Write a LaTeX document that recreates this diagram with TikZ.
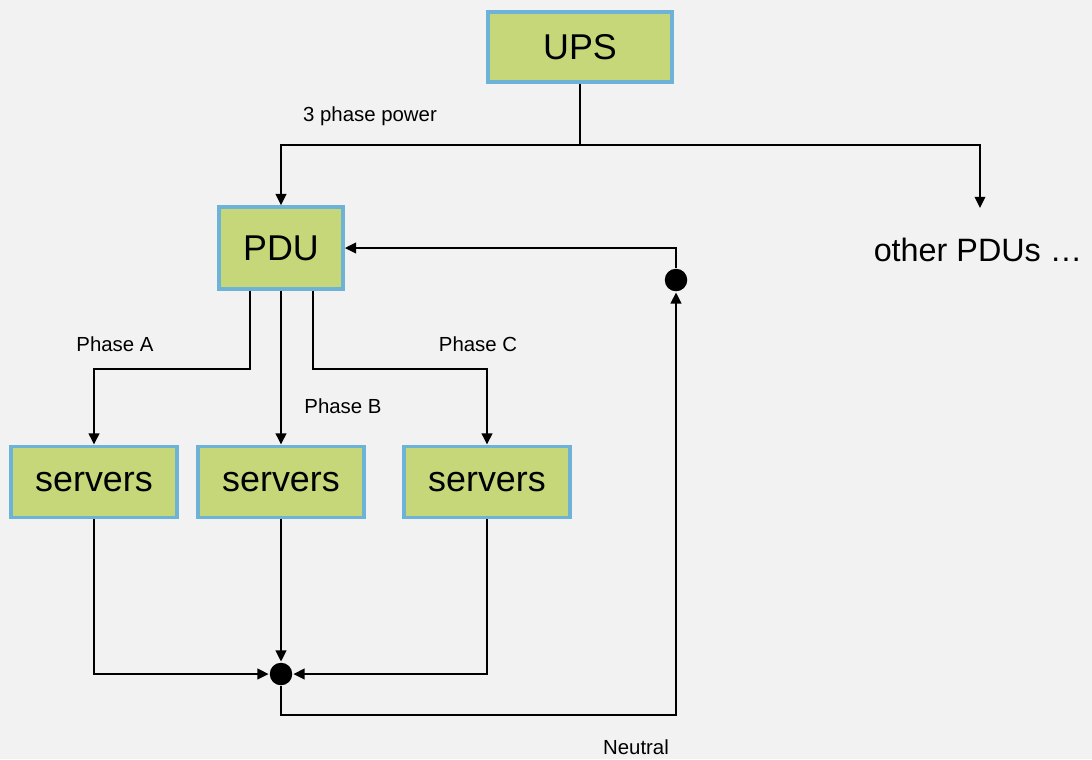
\documentclass[tikz,border=0pt]{standalone}
\usepackage{fontspec}
\setmainfont{Liberation Sans}
\usetikzlibrary{arrows.meta,positioning}
\definecolor{boxfill}{HTML}{C6D77A}
\definecolor{boxline}{HTML}{6DB3D8}
\definecolor{paper}{HTML}{F2F2F2}

\begin{document}
\begin{tikzpicture}[x=0.025cm,y=-0.025cm,>={Triangle[length=8pt,width=7.5pt]},line width=1.6pt,
    box/.style={draw=boxline,fill=boxfill,line width=2.6pt,inner sep=0pt,font=\fontsize{25.5}{30}\selectfont},
    dot/.style={circle,fill=black,inner sep=0pt,minimum size=16pt},
    tag/.style={font=\fontsize{14.5}{17}\selectfont}]
    \useasboundingbox[fill=paper] (0,0) rectangle (1092,759);

    \node[box,minimum width=4.6cm,minimum height=1.75cm] (ups) at (580,47) {UPS};
    \node[box,minimum width=3.1cm,minimum height=2.05cm] (pdu) at (281,248) {PDU};
    \node[box,minimum width=4.15cm,minimum height=1.78cm] (srvA) at (94,482) {servers};
    \node[box,minimum width=4.15cm,minimum height=1.78cm] (srvB) at (281,482) {servers};
    \node[box,minimum width=4.15cm,minimum height=1.78cm] (srvC) at (487,482) {servers};
    \node[font=\fontsize{23}{27}\selectfont] (others) at (978,250) {other PDUs …};
    \node[dot] (sum) at (281,674) {};
    \node[dot] (ret) at (676,280) {};
    \coordinate (split) at (580,145);
    \coordinate (othersIn) at (980,208);

    % supply side
    \draw (ups) -- (split);
    \draw[->] (split) -| (pdu.north);
    \draw[->] (split) -| (othersIn);
    \draw[->] ([xshift=-0.775cm]pdu.south) -- ++(0,78) -| (srvA.north);
    \draw[->] (pdu.south) -- (srvB.north);
    \draw[->] ([xshift=0.8cm]pdu.south) -- ++(0,78) -| (srvC.north);

    % neutral return
    \draw[->] (srvA.south) |- (sum);
    \draw[->] (srvB.south) -- (sum);
    \draw[->] (srvC.south) |- (sum);
    \draw[->] (sum) -- ++(0,41) -| (ret);
    \draw[->] (ret) |- (pdu.east);

    \node[tag] (lblPower) at (370,116) {3 phase power};
    \node[tag] (lblA) at (115,344) {Phase A};
    \node[tag] (lblB) at (343,406) {Phase B};
    \node[tag] (lblC) at (478,344) {Phase C};
    \node[tag] (lblN) at (636,747) {Neutral};
\end{tikzpicture}
\end{document}
